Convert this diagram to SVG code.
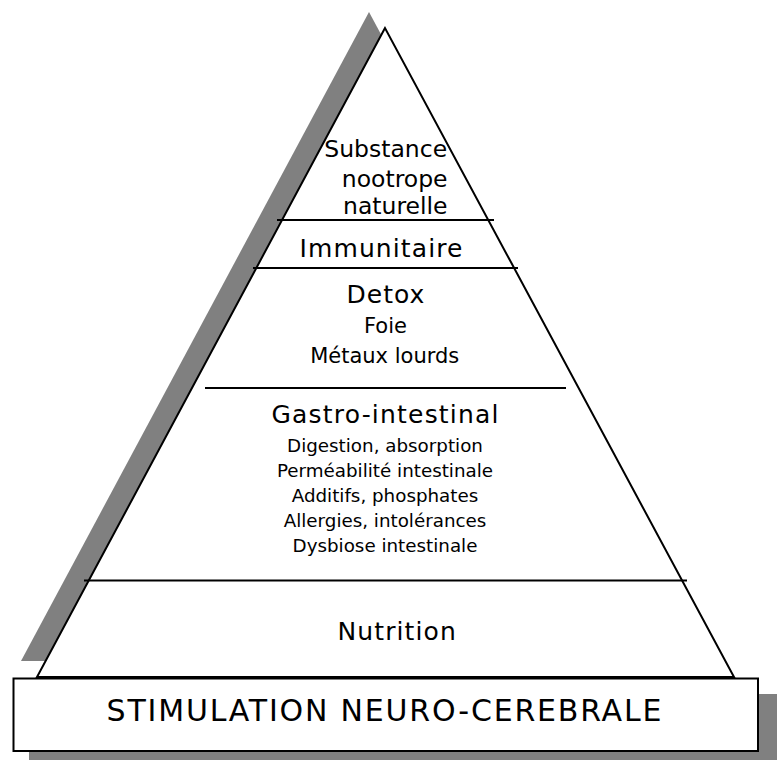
<svg xmlns="http://www.w3.org/2000/svg" width="777" height="760" viewBox="0 0 777 760">
<style>
.shadow{fill:#808080;stroke:none}
.outline{fill:#ffffff;stroke:#000000;stroke-width:2;stroke-linejoin:miter}
.sep{stroke:#000000;stroke-width:2;fill:none}
text{font-family:"DejaVu Sans","Verdana",sans-serif;fill:#000000;text-anchor:middle}
.h{font-size:25px;letter-spacing:1.1px}
.s{font-size:18.3px}
.m{font-size:21px}
</style>
<rect width="777" height="760" fill="#ffffff"/>
<g id="shadows">
<polygon class="shadow" points="369,12 21,661 718,661"/>
<rect class="shadow" x="29" y="694" width="760" height="80"/>
</g>
<g id="pyramid">
<polygon class="outline" points="385,28 37,677 734,677"/>
</g>
<g id="connectors">
<line class="sep" x1="277" y1="220" x2="494" y2="220"/>
<line class="sep" x1="253" y1="268" x2="518" y2="268"/>
<line class="sep" x1="205" y1="388" x2="566" y2="388"/>
<line class="sep" x1="84" y1="580.5" x2="687" y2="580.5"/>
</g>
<g id="tier-substance">
<text x="385.7" y="156.5" style="font-size:23.5px">Substance</text>
<text x="394.7" y="186.5" style="font-size:23.5px">nootrope</text>
<text x="395.3" y="213.5" style="font-size:23.5px">naturelle</text>
</g>
<g id="tier-immunitaire">
<text class="h" x="381.5" y="256.7">Immunitaire</text>
</g>
<g id="tier-detox">
<text class="h" x="386" y="303.3" style="letter-spacing:1px">Detox</text>
<text class="m" x="385.5" y="333.3">Foie</text>
<text class="m" x="384.7" y="363.3">Métaux lourds</text>
</g>
<g id="tier-gastro">
<text class="h" x="385.6" y="423.3" style="letter-spacing:1.2px">Gastro-intestinal</text>
<text class="s" x="385" y="452">Digestion, absorption</text>
<text class="s" x="385" y="477">Perméabilité intestinale</text>
<text class="s" x="385" y="502">Additifs, phosphates</text>
<text class="s" x="385" y="527">Allergies, intolérances</text>
<text class="s" x="385" y="552">Dysbiose intestinale</text>
</g>
<g id="tier-nutrition">
<text class="h" x="397.2" y="640">Nutrition</text>
</g>
<g id="base">
<rect class="outline" x="13.5" y="678.5" width="744.5" height="72.5"/>
<text x="384.9" y="720.7" style="font-size:30px;letter-spacing:1.8px">STIMULATION NEURO-CEREBRALE</text>
</g>
</svg>
